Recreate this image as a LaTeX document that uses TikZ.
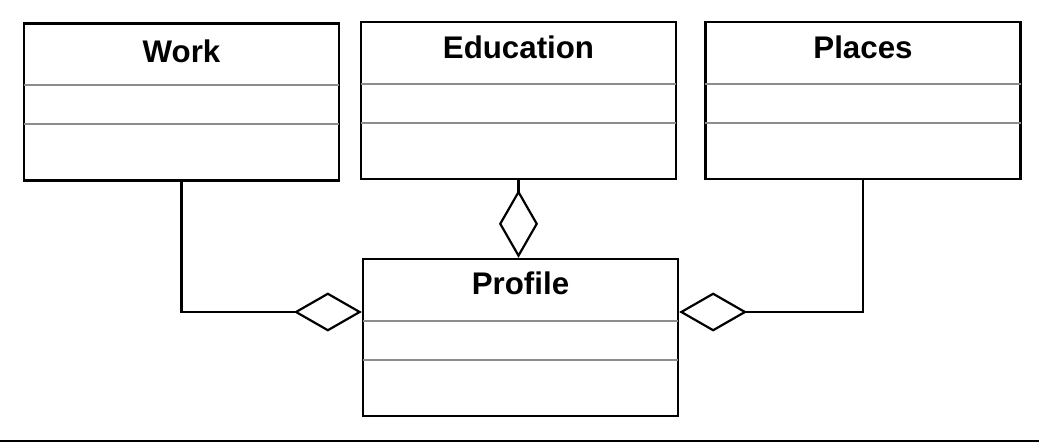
\documentclass[tikz,border=0pt]{standalone}
\usepackage{fontspec}
\setmainfont{Liberation Sans}
\usetikzlibrary{positioning,arrows.meta,calc}

\begin{document}
\begin{tikzpicture}[x=0.02cm, y=-0.02cm,
    umlclass/.style={rectangle, draw, line width=1.35pt, minimum width=6.3cm, minimum height=3.14cm, inner sep=0pt},
    classname/.style={font=\bfseries\fontsize{17.8}{20}\selectfont, anchor=base},
    sep/.style={draw=black!45, line width=1.2pt},
    aggr/.style={-{Diamond[open, length=1.36cm, width=0.78cm]}, line width=1.25pt}]
    \useasboundingbox (0,0) rectangle (1039,442);

    % Classes
    \node[umlclass] (work) at (181.5,102) {};
    \node[umlclass] (education) at (518.5,100.5) {};
    \node[umlclass] (places) at (863,100.5) {};
    \node[umlclass] (profile) at (520.5,337.5) {};

    % Class names
    \node[classname] (workname) at ($(work.north)+(0,40)$) {Work};
    \node[classname] (educationname) at ($(education.north)+(0,38)$) {Education};
    \node[classname] (placesname) at ($(places.north)+(0,38)$) {Places};
    \node[classname] (profilename) at ($(profile.north)+(0,37)$) {Profile};

    % Compartments
    \foreach \c in {work,education,places,profile} {
        \draw[sep] ($(\c.north west)+(1,63)$) -- ($(\c.north east)+(-1,63)$);
        \draw[sep] ($(\c.north west)+(1,102)$) -- ($(\c.north east)+(-1,102)$);
    }

    % Aggregations
    \draw[aggr] (education.south) -- (education.south |- profile.north);
    \draw[aggr] (work.south) |- ($(profile.west)+(0,-25.5)$);
    \draw[aggr] (places.south) |- ($(profile.east)+(0,-25.5)$);

    % Bottom rule
    \draw[line width=0.8pt] (0,441) -- (1039,441);
\end{tikzpicture}
\end{document}
